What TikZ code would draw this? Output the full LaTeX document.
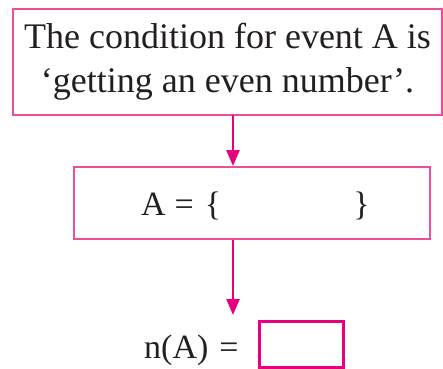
\documentclass[tikz,border=0pt]{standalone}
\usepackage{fontspec}
\setmainfont{Liberation Serif}
\usetikzlibrary{arrows.meta,positioning}
\definecolor{BoxPink}{HTML}{EE4D9B}
\definecolor{ArrowPink}{HTML}{E6007E}
\definecolor{InkBlack}{HTML}{231F20}

\begin{document}
\begin{tikzpicture}[x=1pt,y=-1pt, every node/.style={text=InkBlack}, box/.style={draw=BoxPink,line width=2pt,inner sep=0pt}, flow/.style={draw=ArrowPink,line width=2.6pt,-{Triangle[width=13pt,length=16pt]}}, big/.style={font=\fontsize{36}{44}\selectfont}, mid/.style={font=\fontsize{34}{40}\selectfont}]
\useasboundingbox (0,0) rectangle (443,368);
\node[box,big,align=center,minimum width=429pt,minimum height=106pt] (cond) at (227.5,62) {The condition for event A is\\`getting an even number'.};
\node[box,minimum width=356pt,minimum height=72pt] (setA) at (252,203) {};
\node[mid,anchor=base west,inner sep=0pt] (setlbl) at (141,215) {A\hspace{9pt}=\hspace{11pt}\{\hspace{132pt}\}};
\node[mid,anchor=base west,inner sep=0pt] (count) at (144,358) {n(A)\hspace{11pt}=};
\node[draw=ArrowPink,line width=3pt,minimum width=84pt,minimum height=46pt,inner sep=0pt] (ans) at (301,344) {};
\coordinate (s1) at (233,115);
\coordinate (t2) at (233,315);
\draw[flow] (s1) -- (s1 |- setA.north);
\draw[flow] (setA.south -| s1) -- (t2);
\end{tikzpicture}
\end{document}
